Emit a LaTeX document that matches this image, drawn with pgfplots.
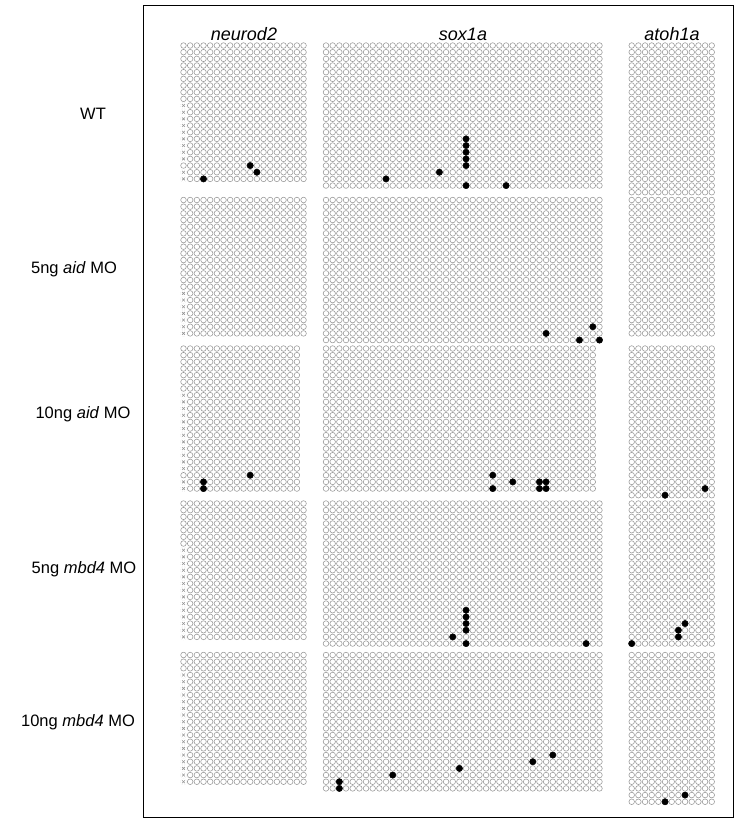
\documentclass[border=0pt]{standalone}
\usepackage{fontspec}
\setmainfont{Liberation Sans}
\usepackage{pgfplots}
\pgfplotsset{compat=1.18}

\definecolor{cgray}{RGB}{150,150,150}
\def\dd{6.67}

% missing site: white disc over the cell, small grey cross
\pgfdeclareplotmark{xcell}{%
  \pgfpathcircle{\pgfpointorigin}{3.4pt}%
  \pgfsetfillcolor{white}\pgfusepathqfill
  \pgfpathmoveto{\pgfpoint{-1.4pt}{-1.4pt}}\pgfpathlineto{\pgfpoint{1.4pt}{1.4pt}}%
  \pgfpathmoveto{\pgfpoint{-1.4pt}{1.4pt}}\pgfpathlineto{\pgfpoint{1.4pt}{-1.4pt}}%
  \pgfusepathqstroke}

\pgfplotsset{
  panel/.style={anchor=north west, scale only axis, hide axis, y dir=reverse, clip=false},
  cpg/.style={only marks, mark=o, mark size=2.8pt, cgray, line width=0.55pt},
  meth/.style={only marks, mark=*, mark size=3.2pt, black},
  miss/.style={only marks, mark=xcell, cgray, line width=0.6pt},
}

% #1,#2 centre of first cell (px), #3 clones/columns, #4 rows
\newcommand\openpanel[4]{%
  \pgfmathsetmacro\pw{#3*\dd}%
  \pgfmathsetmacro\ph{#4*\dd}%
  \pgfmathsetmacro\px{#1-\dd/2}%
  \pgfmathsetmacro\py{\dd/2-#2}%
  \pgfmathsetmacro\pxm{#3-0.5}%
  \pgfmathsetmacro\pym{#4-0.5}%
  \pgfmathtruncatemacro\pn{#3*#4-1}%
  \begin{axis}[panel, at={(\px pt,\py pt)}, width=\pw pt, height=\ph pt,
    xmin=-0.5, xmax=\pxm, ymin=-0.5, ymax=\pym]
  \addplot[cpg, samples at={0,...,\pn}] ({x-#3*floor((x+0.5)/#3)},{floor((x+0.5)/#3)});
}

\begin{document}
\begin{tikzpicture}
\useasboundingbox (0pt,0pt) rectangle (743pt,-822pt);
\draw[line width=1pt] (143pt,-5pt) rectangle (733pt,-817pt);

\begin{scope}[every node/.style={anchor=base, font=\fontsize{18}{20}\selectfont\itshape}]
\node at (244pt,-40pt) {neurod2};
\node at (463pt,-40pt) {sox1a};
\node at (672pt,-40pt) {atoh1a};
\end{scope}
\begin{scope}[every node/.style={anchor=base, font=\fontsize{16.5}{18}\selectfont}]
\node at (93pt,-119pt) {WT};
\node at (74pt,-273pt) {5ng \textit{aid} MO};
\node at (83pt,-418pt) {10ng \textit{aid} MO};
\node at (84pt,-573pt) {5ng \textit{mbd4} MO};
\node at (78pt,-726pt) {10ng \textit{mbd4} MO};
\end{scope}

% ---- WT
\openpanel{183.5}{45.5}{19}{21}
\addplot[miss] coordinates {(0,9)(0,10)(0,11)(0,12)(0,13)(0,14)(0,15)(0,16)(0,17)(0,19)(0,20)};
\addplot[meth] coordinates {(3,20)(10,18)(11,19)};
\end{axis}
\openpanel{326}{45.5}{42}{22}
\addplot[meth] coordinates {(21,14)(21,15)(21,16)(21,17)(21,18)(17,19)(9,20)(21,21)(27,21)};
\end{axis}
\openpanel{631.7}{45.5}{13}{23}
\end{axis}

% ---- 5ng aid MO
\openpanel{183.5}{200}{19}{21}
\addplot[miss] coordinates {(0,14)(0,15)(0,16)(0,17)(0,18)(0,19)(0,20)};
\end{axis}
\openpanel{326}{200}{42}{22}
\addplot[meth] coordinates {(33,20)(40,19)(38,21)(41,21)};
\end{axis}
\openpanel{631.7}{200}{13}{21}
\end{axis}

% ---- 10ng aid MO
\openpanel{183.5}{348.5}{18}{22}
\addplot[miss] coordinates {(0,7)(0,8)(0,9)(0,10)(0,11)(0,12)(0,13)(0,14)(0,15)(0,16)(0,17)(0,18)(0,20)(0,21)};
\addplot[meth] coordinates {(3,20)(3,21)(10,19)};
\end{axis}
\openpanel{326}{348.5}{41}{22}
\addplot[meth] coordinates {(25,19)(25,21)(28,20)(32,20)(33,20)(32,21)(33,21)};
\end{axis}
\openpanel{631.7}{348.5}{13}{23}
\addplot[meth] coordinates {(5,22)(11,21)};
\end{axis}

% ---- 5ng mbd4 MO
\openpanel{183.5}{503.5}{19}{21}
\addplot[miss] coordinates {(0,7)(0,8)(0,9)(0,10)(0,11)(0,12)(0,13)(0,14)(0,15)(0,16)(0,17)(0,18)(0,19)(0,20)};
\end{axis}
\openpanel{326}{503.5}{42}{22}
\addplot[meth] coordinates {(21,16)(21,17)(21,18)(21,19)(19,20)(21,21)(39,21)};
\end{axis}
\openpanel{631.7}{503.5}{13}{22}
\addplot[meth] coordinates {(0,21)(7,20)(7,19)(8,18)};
\end{axis}

% ---- 10ng mbd4 MO
\openpanel{183.5}{655}{19}{20}
\addplot[miss] coordinates {(0,3)(0,4)(0,5)(0,6)(0,7)(0,8)(0,9)(0,10)(0,11)(0,12)(0,13)(0,14)(0,15)(0,16)(0,17)(0,18)(0,19)};
\end{axis}
\openpanel{326}{655}{42}{21}
\addplot[meth] coordinates {(2,20)(2,19)(10,18)(20,17)(31,16)(34,15)};
\end{axis}
\openpanel{631.7}{655}{13}{23}
\addplot[meth] coordinates {(5,22)(8,21)};
\end{axis}

\end{tikzpicture}
\end{document}
